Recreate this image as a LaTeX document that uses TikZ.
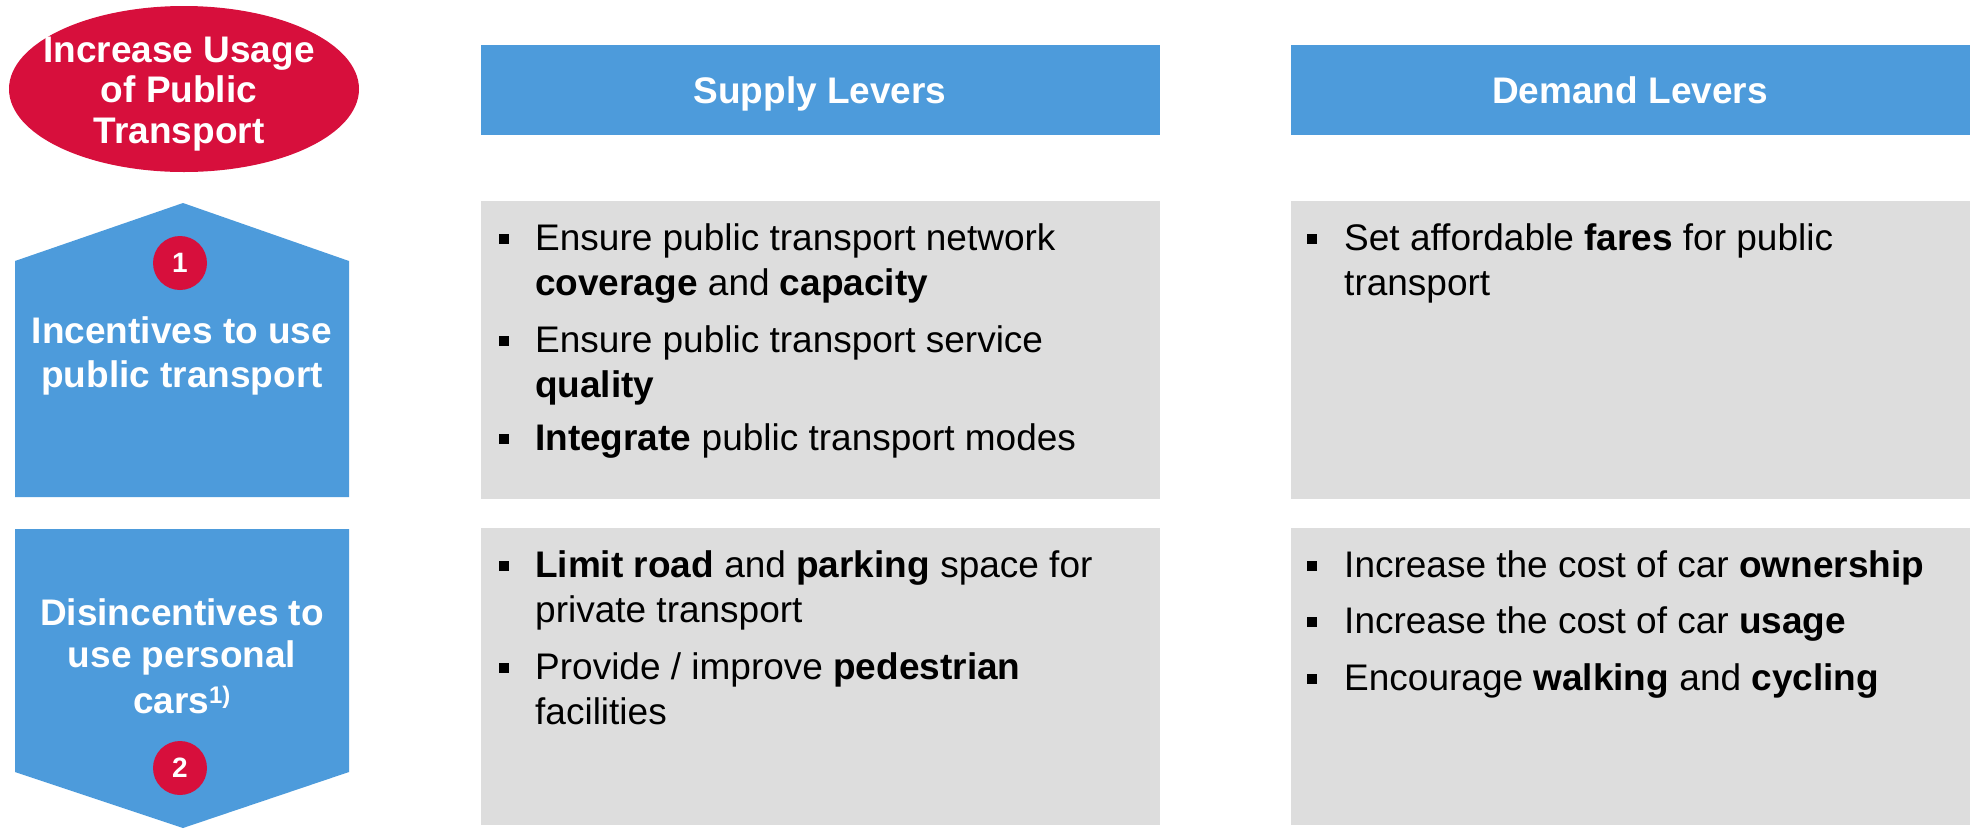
\documentclass[tikz,border=0pt]{standalone}
\usepackage{fontspec}
\setmainfont{Liberation Sans}
\definecolor{crimson}{RGB}{215,15,60}
\definecolor{leverblue}{RGB}{77,155,219}
\definecolor{panelgray}{RGB}{221,221,221}
\tikzset{
  bigtxt/.style={font=\fontsize{37}{44}\selectfont, inner sep=0pt},
  headtxt/.style={bigtxt, text=white, font=\fontsize{37}{44}\selectfont\bfseries, anchor=base},
  bodytxt/.style={bigtxt, text=black, anchor=base west},
  bul/.style={rectangle, fill=black, minimum size=10pt, inner sep=0pt},
  numdot/.style={circle, fill=crimson, minimum size=54pt, inner sep=0pt, text=white, font=\fontsize{28}{30}\selectfont\bfseries},
  header/.style={fill=leverblue},
  panel/.style={fill=panelgray}
}
\begin{document}
\begin{tikzpicture}[x=1pt, y=-1pt]
\useasboundingbox (0,0) rectangle (1973,828);

% goal ellipse
\fill[crimson] (184,89) ellipse [x radius=175pt, y radius=83pt];
\node[headtxt] (g1) at (179,62) {Increase Usage};
\node[headtxt] (g2) at (179,102) {of Public};
\node[headtxt] (g3) at (179,143) {Transport};

% column headers
\fill[header] (481,45) rectangle (1160,135);
\fill[header] (1291,45) rectangle (1970,135);
\node[headtxt] (hs) at (820,103) {Supply Levers};
\node[headtxt] (hd) at (1630,103) {Demand Levers};

% row labels
\fill[leverblue] (15,261) -- (183,203) -- (349,261) -- (349,497) -- (15,497) -- cycle;
\fill[leverblue] (15,529) -- (349,529) -- (349,772) -- (183,828) -- (15,772) -- cycle;
\node[numdot] (n1) at (180,263) {1};
\node[headtxt] (r1a) at (182,343) {Incentives to use};
\node[headtxt] (r1b) at (182,387) {public transport};
\node[headtxt] (r2a) at (182,625) {Disincentives to};
\node[headtxt] (r2b) at (182,667) {use personal};
\node[headtxt] (r2c) at (182,713) {cars\textsuperscript{\fontsize{24}{26}\selectfont 1)}};
\node[numdot] (n2) at (180,768) {2};

% panels
\fill[panel] (481,201) rectangle (1160,499);
\fill[panel] (1291,201) rectangle (1970,499);
\fill[panel] (481,528) rectangle (1160,825);
\fill[panel] (1291,528) rectangle (1970,825);

% supply, row 1
\node[bul] (b11) at (504,239) {};
\node[bodytxt] (t11a) at (535,250) {Ensure public transport network};
\node[bodytxt] (t11b) at (535,295) {\textbf{coverage} and \textbf{capacity}};
\node[bul] (b12) at (504,341) {};
\node[bodytxt] (t12a) at (535,352) {Ensure public transport service};
\node[bodytxt] (t12b) at (535,397) {\textbf{quality}};
\node[bul] (b13) at (504,439) {};
\node[bodytxt] (t13a) at (535,450) {\textbf{Integrate} public transport modes};

% demand, row 1
\node[bul] (b21) at (1312,239) {};
\node[bodytxt] (t21a) at (1344,250) {Set affordable \textbf{fares} for public};
\node[bodytxt] (t21b) at (1344,295) {transport};

% supply, row 2
\node[bul] (b31) at (504,566) {};
\node[bodytxt] (t31a) at (535,577) {\textbf{Limit road} and \textbf{parking} space for};
\node[bodytxt] (t31b) at (535,622) {private transport};
\node[bul] (b32) at (504,668) {};
\node[bodytxt] (t32a) at (535,679) {Provide / improve \textbf{pedestrian}};
\node[bodytxt] (t32b) at (535,724) {facilities};

% demand, row 2
\node[bul] (b41) at (1312,566) {};
\node[bodytxt] (t41) at (1344,577) {Increase the cost of car \textbf{ownership}};
\node[bul] (b42) at (1312,622) {};
\node[bodytxt] (t42) at (1344,633) {Increase the cost of car \textbf{usage}};
\node[bul] (b43) at (1312,679) {};
\node[bodytxt] (t43) at (1344,690) {Encourage \textbf{walking} and \textbf{cycling}};
\end{tikzpicture}
\end{document}
